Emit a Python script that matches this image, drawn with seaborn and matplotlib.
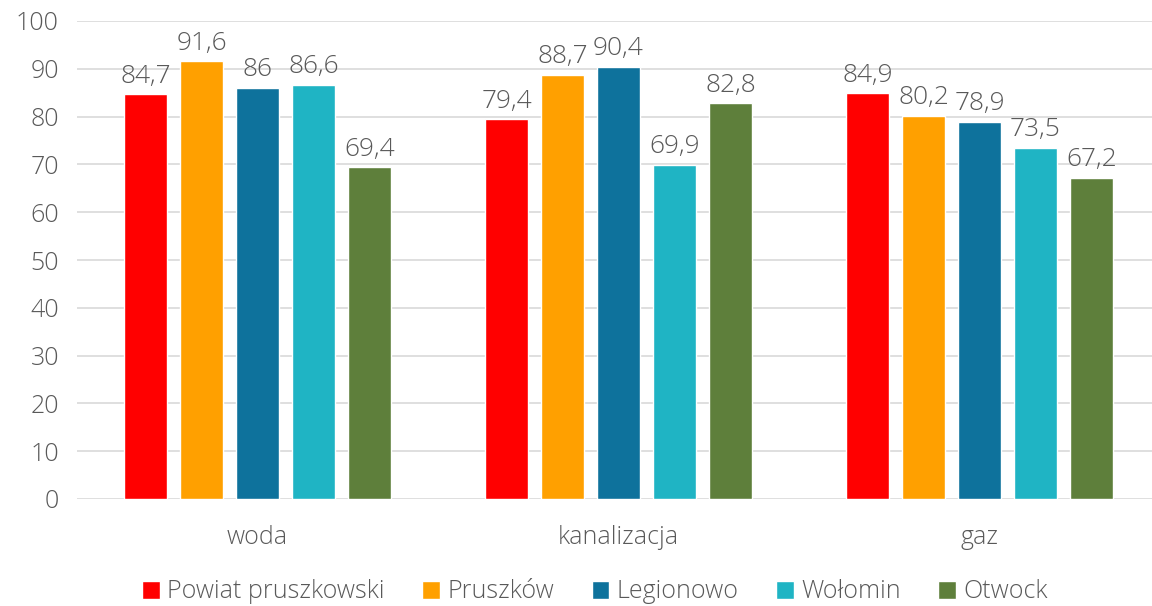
import matplotlib
matplotlib.use("Agg")
import matplotlib.pyplot as plt
import seaborn as sns
import pandas as pd

categories = ["woda", "kanalizacja", "gaz"]
series = ["Powiat pruszkowski", "Pruszków", "Legionowo", "Wołomin", "Otwock"]
colors = ["#FF0000", "#FFA000", "#0E729C", "#1FB4C4", "#5E7F3B"]
v_powiat = [84.7, 79.4, 84.9]
v_pruszkow = [91.6, 88.7, 80.2]
v_legionowo = [86.0, 90.4, 78.9]
v_wolomin = [86.6, 69.9, 73.5]
v_otwock = [69.4, 82.8, 67.2]
y_ticks = [0, 10, 20, 30, 40, 50, 60, 70, 80, 90, 100]

values = [v_powiat, v_pruszkow, v_legionowo, v_wolomin, v_otwock]
rows = []
for s, vals in zip(series, values):
    for c, v in zip(categories, vals):
        rows.append({"kategoria": c, "seria": s, "wartosc": v})
df = pd.DataFrame(rows)

sns.set_theme(style="white")
plt.rcParams["font.family"] = ["Open Sans", "DejaVu Sans"]
txt = "#595959"

fig = plt.figure(figsize=(11.52, 6.06), dpi=100)
ax = fig.add_axes([77 / 1152, 1 - 499 / 606, 1075 / 1152, 478 / 606])

sns.barplot(data=df, x="kategoria", y="wartosc", hue="seria", order=categories,
            hue_order=series, palette=colors, width=0.776, gap=0.23,
            saturation=1, ax=ax, errorbar=None, legend=True)

for cont in ax.containers:
    labels = [("%g" % b.get_height()).replace(".", ",") for b in cont]
    ax.bar_label(cont, labels=labels, padding=4, fontsize=19, color=txt,
                 fontweight="light")

ax.set_ylim(0, 100)
ax.set_xlim(-0.5, -0.5 + 1075 / 361)
ax.set_yticks(y_ticks)
ax.yaxis.grid(True, color="#D9D9D9", linewidth=1.2)
ax.set_axisbelow(True)
for sp in ax.spines.values():
    sp.set_visible(False)
ax.set_xlabel("")
ax.set_ylabel("")
ax.tick_params(axis="y", length=0, pad=13, labelsize=18, labelcolor=txt)
ax.tick_params(axis="x", length=0, pad=19, labelsize=18, labelcolor=txt)
for t in ax.get_xticklabels() + ax.get_yticklabels():
    t.set_fontweight("light")

leg = ax.legend(loc="center", bbox_to_anchor=(595 / 1152, 1 - 592 / 606),
                bbox_transform=fig.transFigure, ncol=5, frameon=False,
                fontsize=18, handlelength=0.7, handleheight=0.7,
                handletextpad=0.3, columnspacing=1.5)
for t in leg.get_texts():
    t.set_color(txt)
    t.set_fontweight("light")

fig.savefig("out.png", dpi=100)
